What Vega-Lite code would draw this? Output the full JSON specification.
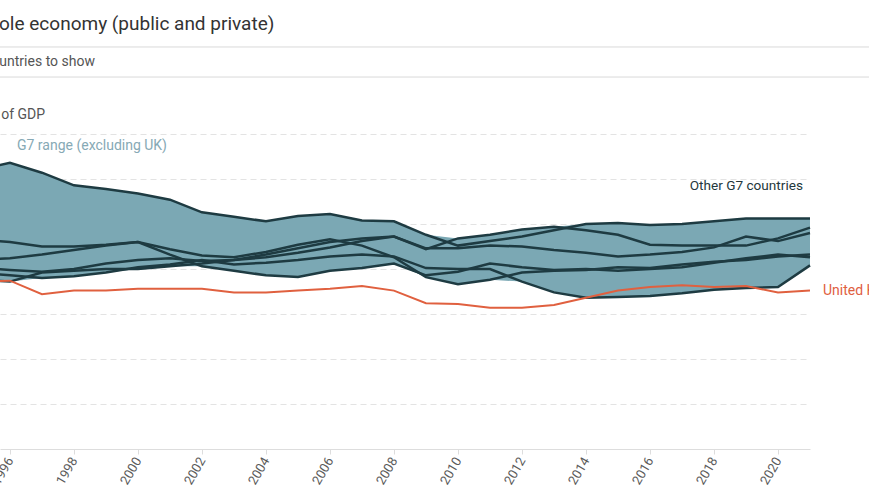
{
  "$schema": "https://vega.github.io/schema/vega-lite/v6.json",
  "width": 810,
  "height": 315,
  "autosize": {"type": "none"},
  "padding": {"left": 0, "top": 134, "right": 59, "bottom": 55},
  "background": "white",
  "title": {
    "text": "Investment in the whole economy (public and private)",
    "anchor": "start",
    "frame": "group",
    "dx": -176,
    "offset": 12,
    "fontSize": 19,
    "font": "Roboto",
    "fontWeight": "normal",
    "color": "#333333"
  },
  "config": {"view": {"stroke": null}, "font": "Roboto"},
  "datasets": {
    "inv": [
      {"country": "Japan", "year": 1995, "value": 31.0}, {"country": "Japan", "year": 1996, "value": 31.8}, {"country": "Japan", "year": 1997, "value": 30.7}, {"country": "Japan", "year": 1998, "value": 29.3}, {"country": "Japan", "year": 1999, "value": 28.9}, {"country": "Japan", "year": 2000, "value": 28.4}, {"country": "Japan", "year": 2001, "value": 27.7}, {"country": "Japan", "year": 2002, "value": 26.3}, {"country": "Japan", "year": 2003, "value": 25.8}, {"country": "Japan", "year": 2004, "value": 25.3}, {"country": "Japan", "year": 2005, "value": 25.9}, {"country": "Japan", "year": 2006, "value": 26.1}, {"country": "Japan", "year": 2007, "value": 25.4}, {"country": "Japan", "year": 2008, "value": 25.3}, {"country": "Japan", "year": 2009, "value": 23.8}, {"country": "Japan", "year": 2010, "value": 22.6}, {"country": "Japan", "year": 2011, "value": 23.1}, {"country": "Japan", "year": 2012, "value": 23.6}, {"country": "Japan", "year": 2013, "value": 24.3}, {"country": "Japan", "year": 2014, "value": 25.0}, {"country": "Japan", "year": 2015, "value": 25.1}, {"country": "Japan", "year": 2016, "value": 24.9}, {"country": "Japan", "year": 2017, "value": 25.0}, {"country": "Japan", "year": 2018, "value": 25.3}, {"country": "Japan", "year": 2019, "value": 25.6}, {"country": "Japan", "year": 2020, "value": 25.6}, {"country": "Japan", "year": 2021, "value": 25.6},
      {"country": "Canada", "year": 1995, "value": 18.8}, {"country": "Canada", "year": 1996, "value": 18.6}, {"country": "Canada", "year": 1997, "value": 19.6}, {"country": "Canada", "year": 1998, "value": 19.8}, {"country": "Canada", "year": 1999, "value": 20.0}, {"country": "Canada", "year": 2000, "value": 20.0}, {"country": "Canada", "year": 2001, "value": 20.3}, {"country": "Canada", "year": 2002, "value": 20.6}, {"country": "Canada", "year": 2003, "value": 21.0}, {"country": "Canada", "year": 2004, "value": 21.6}, {"country": "Canada", "year": 2005, "value": 22.3}, {"country": "Canada", "year": 2006, "value": 23.0}, {"country": "Canada", "year": 2007, "value": 23.4}, {"country": "Canada", "year": 2008, "value": 23.6}, {"country": "Canada", "year": 2009, "value": 22.2}, {"country": "Canada", "year": 2010, "value": 23.4}, {"country": "Canada", "year": 2011, "value": 23.8}, {"country": "Canada", "year": 2012, "value": 24.4}, {"country": "Canada", "year": 2013, "value": 24.7}, {"country": "Canada", "year": 2014, "value": 24.3}, {"country": "Canada", "year": 2015, "value": 23.8}, {"country": "Canada", "year": 2016, "value": 22.7}, {"country": "Canada", "year": 2017, "value": 22.6}, {"country": "Canada", "year": 2018, "value": 22.6}, {"country": "Canada", "year": 2019, "value": 22.6}, {"country": "Canada", "year": 2020, "value": 23.4}, {"country": "Canada", "year": 2021, "value": 24.6},
      {"country": "Germany", "year": 1995, "value": 23.3}, {"country": "Germany", "year": 1996, "value": 23.0}, {"country": "Germany", "year": 1997, "value": 22.5}, {"country": "Germany", "year": 1998, "value": 22.5}, {"country": "Germany", "year": 1999, "value": 22.7}, {"country": "Germany", "year": 2000, "value": 23.0}, {"country": "Germany", "year": 2001, "value": 21.6}, {"country": "Germany", "year": 2002, "value": 20.3}, {"country": "Germany", "year": 2003, "value": 19.8}, {"country": "Germany", "year": 2004, "value": 19.3}, {"country": "Germany", "year": 2005, "value": 19.1}, {"country": "Germany", "year": 2006, "value": 19.8}, {"country": "Germany", "year": 2007, "value": 20.1}, {"country": "Germany", "year": 2008, "value": 20.6}, {"country": "Germany", "year": 2009, "value": 19.3}, {"country": "Germany", "year": 2010, "value": 19.7}, {"country": "Germany", "year": 2011, "value": 20.6}, {"country": "Germany", "year": 2012, "value": 20.2}, {"country": "Germany", "year": 2013, "value": 19.9}, {"country": "Germany", "year": 2014, "value": 20.0}, {"country": "Germany", "year": 2015, "value": 19.8}, {"country": "Germany", "year": 2016, "value": 20.0}, {"country": "Germany", "year": 2017, "value": 20.2}, {"country": "Germany", "year": 2018, "value": 20.7}, {"country": "Germany", "year": 2019, "value": 21.2}, {"country": "Germany", "year": 2020, "value": 21.6}, {"country": "Germany", "year": 2021, "value": 21.3},
      {"country": "United States", "year": 1995, "value": 21.0}, {"country": "United States", "year": 1996, "value": 21.2}, {"country": "United States", "year": 1997, "value": 21.6}, {"country": "United States", "year": 1998, "value": 22.1}, {"country": "United States", "year": 1999, "value": 22.6}, {"country": "United States", "year": 2000, "value": 23.0}, {"country": "United States", "year": 2001, "value": 22.2}, {"country": "United States", "year": 2002, "value": 21.5}, {"country": "United States", "year": 2003, "value": 21.3}, {"country": "United States", "year": 2004, "value": 21.9}, {"country": "United States", "year": 2005, "value": 22.7}, {"country": "United States", "year": 2006, "value": 23.3}, {"country": "United States", "year": 2007, "value": 22.6}, {"country": "United States", "year": 2008, "value": 21.3}, {"country": "United States", "year": 2009, "value": 19.1}, {"country": "United States", "year": 2010, "value": 18.3}, {"country": "United States", "year": 2011, "value": 18.8}, {"country": "United States", "year": 2012, "value": 19.6}, {"country": "United States", "year": 2013, "value": 19.8}, {"country": "United States", "year": 2014, "value": 19.9}, {"country": "United States", "year": 2015, "value": 20.2}, {"country": "United States", "year": 2016, "value": 20.1}, {"country": "United States", "year": 2017, "value": 20.5}, {"country": "United States", "year": 2018, "value": 20.8}, {"country": "United States", "year": 2019, "value": 21.0}, {"country": "United States", "year": 2020, "value": 21.4}, {"country": "United States", "year": 2021, "value": 21.6},
      {"country": "France", "year": 1995, "value": 20.1}, {"country": "France", "year": 1996, "value": 19.9}, {"country": "France", "year": 1997, "value": 19.7}, {"country": "France", "year": 1998, "value": 20.0}, {"country": "France", "year": 1999, "value": 20.6}, {"country": "France", "year": 2000, "value": 21.0}, {"country": "France", "year": 2001, "value": 21.2}, {"country": "France", "year": 2002, "value": 20.9}, {"country": "France", "year": 2003, "value": 21.0}, {"country": "France", "year": 2004, "value": 21.3}, {"country": "France", "year": 2005, "value": 21.8}, {"country": "France", "year": 2006, "value": 22.4}, {"country": "France", "year": 2007, "value": 23.1}, {"country": "France", "year": 2008, "value": 23.6}, {"country": "France", "year": 2009, "value": 22.3}, {"country": "France", "year": 2010, "value": 22.3}, {"country": "France", "year": 2011, "value": 22.6}, {"country": "France", "year": 2012, "value": 22.5}, {"country": "France", "year": 2013, "value": 22.1}, {"country": "France", "year": 2014, "value": 21.8}, {"country": "France", "year": 2015, "value": 21.4}, {"country": "France", "year": 2016, "value": 21.6}, {"country": "France", "year": 2017, "value": 21.9}, {"country": "France", "year": 2018, "value": 22.4}, {"country": "France", "year": 2019, "value": 23.6}, {"country": "France", "year": 2020, "value": 23.1}, {"country": "France", "year": 2021, "value": 24.0},
      {"country": "Italy", "year": 1995, "value": 19.6}, {"country": "Italy", "year": 1996, "value": 19.3}, {"country": "Italy", "year": 1997, "value": 19.0}, {"country": "Italy", "year": 1998, "value": 19.2}, {"country": "Italy", "year": 1999, "value": 19.6}, {"country": "Italy", "year": 2000, "value": 20.2}, {"country": "Italy", "year": 2001, "value": 20.5}, {"country": "Italy", "year": 2002, "value": 21.0}, {"country": "Italy", "year": 2003, "value": 20.5}, {"country": "Italy", "year": 2004, "value": 20.7}, {"country": "Italy", "year": 2005, "value": 21.0}, {"country": "Italy", "year": 2006, "value": 21.4}, {"country": "Italy", "year": 2007, "value": 21.6}, {"country": "Italy", "year": 2008, "value": 21.4}, {"country": "Italy", "year": 2009, "value": 20.1}, {"country": "Italy", "year": 2010, "value": 20.0}, {"country": "Italy", "year": 2011, "value": 20.0}, {"country": "Italy", "year": 2012, "value": 18.6}, {"country": "Italy", "year": 2013, "value": 17.4}, {"country": "Italy", "year": 2014, "value": 16.8}, {"country": "Italy", "year": 2015, "value": 16.9}, {"country": "Italy", "year": 2016, "value": 17.0}, {"country": "Italy", "year": 2017, "value": 17.3}, {"country": "Italy", "year": 2018, "value": 17.7}, {"country": "Italy", "year": 2019, "value": 17.9}, {"country": "Italy", "year": 2020, "value": 18.0}, {"country": "Italy", "year": 2021, "value": 20.4},
      {"country": "United Kingdom", "year": 1995, "value": 18.6}, {"country": "United Kingdom", "year": 1996, "value": 18.7}, {"country": "United Kingdom", "year": 1997, "value": 17.2}, {"country": "United Kingdom", "year": 1998, "value": 17.6}, {"country": "United Kingdom", "year": 1999, "value": 17.6}, {"country": "United Kingdom", "year": 2000, "value": 17.8}, {"country": "United Kingdom", "year": 2001, "value": 17.8}, {"country": "United Kingdom", "year": 2002, "value": 17.8}, {"country": "United Kingdom", "year": 2003, "value": 17.4}, {"country": "United Kingdom", "year": 2004, "value": 17.4}, {"country": "United Kingdom", "year": 2005, "value": 17.6}, {"country": "United Kingdom", "year": 2006, "value": 17.8}, {"country": "United Kingdom", "year": 2007, "value": 18.1}, {"country": "United Kingdom", "year": 2008, "value": 17.6}, {"country": "United Kingdom", "year": 2009, "value": 16.2}, {"country": "United Kingdom", "year": 2010, "value": 16.1}, {"country": "United Kingdom", "year": 2011, "value": 15.7}, {"country": "United Kingdom", "year": 2012, "value": 15.7}, {"country": "United Kingdom", "year": 2013, "value": 16.0}, {"country": "United Kingdom", "year": 2014, "value": 16.8}, {"country": "United Kingdom", "year": 2015, "value": 17.6}, {"country": "United Kingdom", "year": 2016, "value": 18.0}, {"country": "United Kingdom", "year": 2017, "value": 18.2}, {"country": "United Kingdom", "year": 2018, "value": 18.0}, {"country": "United Kingdom", "year": 2019, "value": 18.1}, {"country": "United Kingdom", "year": 2020, "value": 17.4}, {"country": "United Kingdom", "year": 2021, "value": 17.6}
    ]
  },
  "data": {"name": "inv"},
  "layer": [
    {
      "transform": [{"filter": "datum.country !== 'United Kingdom'"}],
      "mark": {"type": "area", "color": "#7ba8b4", "opacity": 1},
      "encoding": {
        "x": {
          "field": "year", "type": "quantitative",
          "scale": {"domain": [1995.69, 2021], "nice": false, "zero": false},
          "axis": {
            "values": [1996, 1998, 2000, 2002, 2004, 2006, 2008, 2010, 2012, 2014, 2016, 2018, 2020],
            "format": "d", "labelAngle": -60, "labelFontSize": 13, "labelColor": "#5a5a5a",
            "tickColor": "#dddddd", "tickSize": 5, "domainColor": "#dddddd", "grid": false,
            "title": null, "labelPadding": 4
          }
        },
        "y": {
          "aggregate": "min", "field": "value", "type": "quantitative",
          "scale": {"domain": [0, 35], "nice": false},
          "axis": {
            "title": "% of GDP", "titleAngle": 0, "titleX": -13, "titleY": -16,
            "titleAlign": "left", "titleBaseline": "alphabetic", "titleFontSize": 14,
            "titleColor": "#555555", "titleFontWeight": "normal",
            "labels": false, "ticks": false, "domain": false, "grid": true,
            "gridDash": [6, 4], "gridColor": "#e3e3e3",
            "values": [5, 10, 15, 20, 25, 30, 35]
          }
        },
        "y2": {"aggregate": "max", "field": "value"}
      }
    },
    {
      "transform": [{"filter": "datum.country !== 'United Kingdom'"}],
      "mark": {"type": "line", "color": "#1e3b42", "strokeWidth": 2.5},
      "encoding": {
        "x": {"field": "year", "type": "quantitative"},
        "y": {"field": "value", "type": "quantitative"},
        "detail": {"field": "country"}
      }
    },
    {
      "transform": [{"filter": "datum.country === 'United Kingdom'"}],
      "mark": {"type": "line", "color": "#e0603f", "strokeWidth": 2},
      "encoding": {
        "x": {"field": "year", "type": "quantitative"},
        "y": {"field": "value", "type": "quantitative"}
      }
    },
    {
      "transform": [{"filter": "datum.country === 'United Kingdom' && datum.year === 2021"}],
      "mark": {"type": "text", "align": "left", "baseline": "middle", "dx": 13, "fontSize": 14, "color": "#e0603f", "text": "United Kingdom"},
      "encoding": {
        "x": {"field": "year", "type": "quantitative"},
        "y": {"field": "value", "type": "quantitative"}
      }
    },
    {
      "data": {"values": [{"label": "G7 range (excluding UK)"}]},
      "mark": {"type": "text", "align": "left", "baseline": "middle", "fontSize": 14, "fontWeight": "normal", "color": "#86a9b5"},
      "encoding": {
        "x": {"datum": 1996.22, "type": "quantitative"},
        "y": {"datum": 33.7, "type": "quantitative"},
        "text": {"field": "label"}
      }
    },
    {
      "data": {"values": [{"label": "Other G7 countries"}]},
      "mark": {"type": "text", "align": "right", "baseline": "middle", "fontSize": 13.6, "fontWeight": "normal", "color": "#24373c"},
      "encoding": {
        "x": {"datum": 2020.78, "type": "quantitative"},
        "y": {"datum": 29.2, "type": "quantitative"},
        "text": {"field": "label"}
      }
    },
    {
      "data": {"values": [{"label": "Select countries to show"}]},
      "mark": {"type": "text", "align": "left", "baseline": "middle", "fontSize": 14, "color": "#555555"},
      "encoding": {
        "x": {"datum": 1993.88, "type": "quantitative"},
        "y": {"datum": 43.0, "type": "quantitative"},
        "text": {"field": "label"}
      }
    },
    {
      "data": {"values": [{"sep": "top"}]},
      "mark": {"type": "rule", "color": "#d9d9d9", "strokeWidth": 1},
      "encoding": {
        "x": {"datum": 1995, "type": "quantitative"},
        "x2": {"datum": 2023.5},
        "y": {"datum": 44.67, "type": "quantitative"}
      }
    },
    {
      "data": {"values": [{"sep": "bottom"}]},
      "mark": {"type": "rule", "color": "#d9d9d9", "strokeWidth": 1},
      "encoding": {
        "x": {"datum": 1995, "type": "quantitative"},
        "x2": {"datum": 2023.5},
        "y": {"datum": 41.33, "type": "quantitative"}
      }
    }
  ]
}
